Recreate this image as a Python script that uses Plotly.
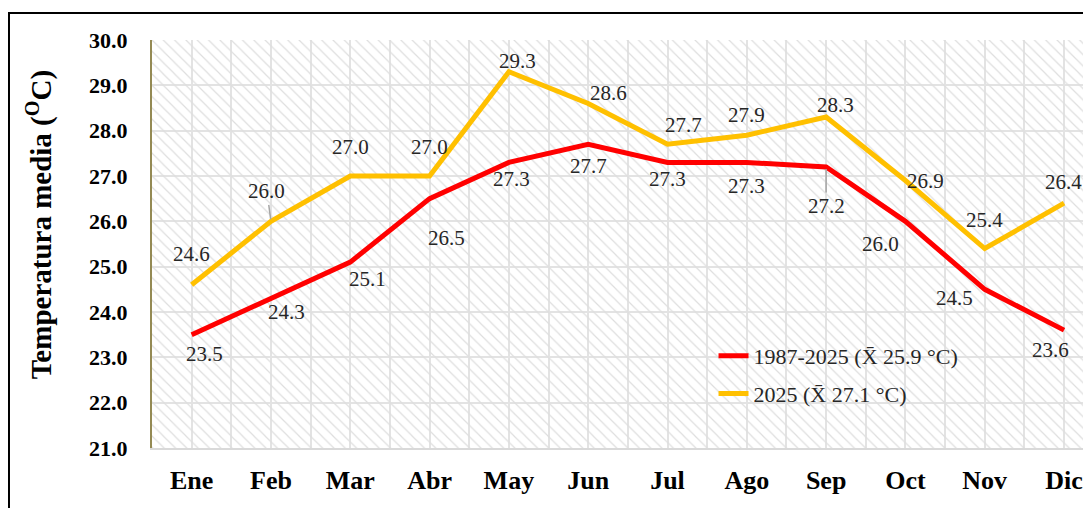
import plotly.graph_objects as go

months = ["Ene", "Feb", "Mar", "Abr", "May", "Jun", "Jul", "Ago", "Sep", "Oct", "Nov", "Dic"]
hist_vals = [23.5, 24.3, 25.1, 26.5, 27.3, 27.7, 27.3, 27.3, 27.2, 26.0, 24.5, 23.6]
y2025_vals = [24.6, 26.0, 27.0, 27.0, 29.3, 28.6, 27.7, 27.9, 28.3, 26.9, 25.4, 26.4]
hist_name = "1987-2025 (X\u0304 25.9 °C)"
y2025_name = "2025 (X\u0304 27.1 °C)"
y_title = "Temperatura media (<sup>O</sup>C)"

y_min, y_max = 21.0, 30.0
x_lo, x_hi = -0.5, 11.34

FONT = "Liberation Serif, Times New Roman, serif"
RED = "#ff0000"
YEL = "#ffc000"

# label offsets (pixels) for data labels
hist_off = [(13, -19), (16, -14), (17, -17), (17, -39), (3, -17), (0, -22),
            (0, -17), (0, -24), (0, -39), (-25, -23), (-30, -9), (-14, -20)]
y25_off = [(0, 31), (-4, 30), (0, 29), (0, 29), (9, 11), (20, 10),
           (16, 19), (0, 20), (9, 12), (20, 0), (0, 29), (-1, 21)]
hist_leader = [False] * 8 + [True] + [False] * 3
y25_leader = [False, True] + [False] * 10

xs = list(range(len(months)))

fig = go.Figure()

# hatched background
fig.add_trace(go.Bar(
    x=[(x_lo + x_hi) / 2], y=[y_max - y_min], base=[y_min], width=[x_hi - x_lo],
    marker=dict(color="rgba(0,0,0,0)", line=dict(width=0),
                pattern=dict(shape="\\", fillmode="replace", fgcolor="#dedede",
                             size=8, solidity=0.15)),
    showlegend=False, hoverinfo="skip"))

fig.add_trace(go.Scatter(
    x=xs, y=hist_vals, mode="lines", name=hist_name,
    line=dict(color=RED, width=5), legendgroup="a"))
fig.add_trace(go.Scatter(
    x=xs, y=y2025_vals, mode="lines", name=y2025_name,
    line=dict(color=YEL, width=5), legendgroup="b"))

annotations = []
for vals, offs, leads in [(hist_vals, hist_off, hist_leader), (y2025_vals, y25_off, y25_leader)]:
    for i, (v, (dx, dy), ld) in enumerate(zip(vals, offs, leads)):
        base = dict(x=i, y=v, text=f"{v:.1f}", font=dict(family=FONT, size=21, color="#262626"))
        if ld:
            base.update(showarrow=True, ax=dx, ay=-dy, arrowhead=0, arrowwidth=1.5,
                        arrowcolor="#a6a6a6", standoff=2)
        else:
            base.update(showarrow=False, xshift=dx, yshift=dy)
        annotations.append(base)

# y-axis title
annotations.append(dict(
    xref="paper", yref="paper", x=-0.12, y=0.549, text=y_title, textangle=-90,
    showarrow=False, xanchor="center", yanchor="middle",
    font=dict(family=FONT, size=29, color="black", weight="bold")))

fig.update_layout(
    width=1083, height=500,
    margin=dict(l=144, r=0, t=32, b=60),
    paper_bgcolor="white", plot_bgcolor="white",
    annotations=annotations,
    showlegend=True,
    legend=dict(x=0.598, y=0.277, xanchor="left", yanchor="top",
                bgcolor="rgba(0,0,0,0)", tracegroupgap=6,
                font=dict(family=FONT, size=22, color="#262626")),
    shapes=[dict(type="rect", xref="paper", yref="paper",
                 x0=-0.1523, x1=1.2, y0=-0.5, y1=1.066,
                 line=dict(color="black", width=2), fillcolor="rgba(0,0,0,0)", layer="above")],
)

fig.update_xaxes(
    range=[x_lo, x_hi], tickmode="array", tickvals=xs, ticktext=months,
    tickfont=dict(family=FONT, size=26, color="black", weight="bold"),
    showgrid=True, gridcolor="#e3e3e3", gridwidth=2,
    minor=dict(showgrid=True, gridcolor="#e3e3e3", gridwidth=2, tickmode="linear",
               tick0=-0.5, dtick=1),
    showline=True, linecolor="#d9d9d9", linewidth=2,
    ticks="", ticklabelstandoff=8, zeroline=False)

fig.update_yaxes(
    range=[y_min, y_max], dtick=1, tickformat=".1f",
    tickfont=dict(family=FONT, size=22, color="black", weight="bold"),
    showgrid=True, gridcolor="#e3e3e3", gridwidth=2,
    showline=True, linecolor="#948a54", linewidth=2,
    ticks="", ticklabelstandoff=18, zeroline=False)

fig.write_html("out.html")
